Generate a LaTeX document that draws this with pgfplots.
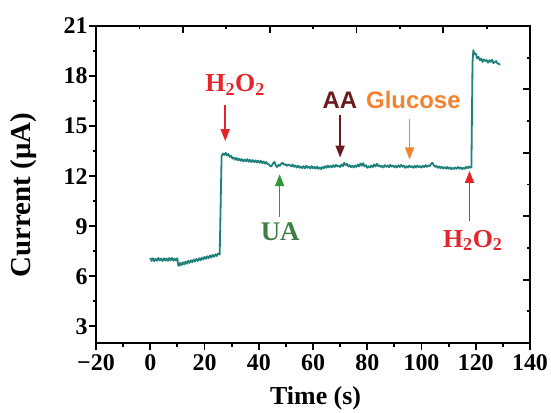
\documentclass[border=0pt]{standalone}
\usepackage{fontspec}
\setmainfont{Liberation Serif}
\newfontfamily\sansfont{Liberation Sans}
\newfontfamily\boldserif{Liberation Serif Bold}
\usepackage{pgfplots}
\pgfplotsset{compat=1.18}
\usetikzlibrary{arrows.meta}

\definecolor{trace}{HTML}{20807B}
\definecolor{hred}{HTML}{E4262B}
\definecolor{aared}{HTML}{6B1A1E}
\definecolor{gluc}{HTML}{F4822F}
\definecolor{uagreen}{HTML}{3F7F45}

% amperometric current trace: time (s), current (uA)
\pgfplotstableread{
t I
0.0 7.10
0.5 6.92
1.0 7.08
1.5 6.90
2.0 7.05
2.5 6.93
3.0 7.10
3.5 6.95
4.0 7.06
4.5 6.91
5.0 7.08
5.5 6.94
6.0 7.07
6.5 6.92
7.0 7.09
7.5 6.95
8.0 7.10
8.5 6.93
9.0 7.06
9.5 6.95
10.0 7.08
10.2 6.75
10.5 6.62
11.0 6.80
11.5 6.66
12.0 6.84
12.5 6.71
13.0 6.88
13.5 6.75
14.0 6.93
14.5 6.80
15.0 6.96
15.5 6.84
16.0 7.00
16.5 6.88
17.0 7.04
17.5 6.92
18.0 7.08
18.5 6.95
19.0 7.12
19.5 7.00
20.0 7.16
20.5 7.04
21.0 7.20
21.5 7.08
22.0 7.24
22.5 7.12
23.0 7.28
23.5 7.17
24.0 7.32
24.5 7.21
25.0 7.36
25.6 7.30
26.3 13.20
26.8 13.36
27.3 13.27
27.8 13.40
28.3 13.24
28.8 13.33
29.3 13.15
29.8 13.22
30.3 13.05
30.8 13.12
31.3 12.98
31.8 13.10
32.3 12.95
32.8 13.05
33.3 12.92
33.8 13.02
34.3 12.88
34.8 13.00
35.3 12.90
35.8 13.02
36.3 12.86
36.8 12.98
37.3 12.85
37.8 12.96
38.3 12.84
38.8 12.95
39.3 12.82
39.8 12.93
40.3 12.80
40.8 12.92
41.3 12.78
41.8 12.88
42.3 12.75
42.8 12.85
43.3 12.72
43.8 12.70
44.3 12.58
44.8 12.62
45.3 12.78
45.8 12.85
46.3 12.62
46.8 12.55
47.3 12.68
47.8 12.62
48.3 12.75
48.8 12.80
49.3 12.68
49.8 12.72
50.3 12.62
50.8 12.70
51.5 12.66
52.0 12.58
52.5 12.70
53.0 12.56
53.5 12.64
54.0 12.52
54.5 12.63
55.0 12.50
55.5 12.58
56.0 12.48
56.5 12.60
57.0 12.47
57.5 12.62
58.0 12.50
58.5 12.57
59.0 12.46
59.5 12.60
60.0 12.48
60.5 12.56
61.0 12.45
61.5 12.58
62.0 12.44
62.5 12.52
63.0 12.42
63.5 12.55
64.0 12.47
64.5 12.60
65.0 12.50
65.5 12.64
66.0 12.52
66.5 12.62
67.0 12.54
67.5 12.66
68.0 12.55
68.5 12.68
69.0 12.57
69.5 12.63
70.0 12.55
70.5 12.70
71.0 12.60
71.5 12.80
72.0 12.66
72.5 12.74
73.0 12.58
73.5 12.66
74.0 12.54
74.5 12.62
75.0 12.52
75.5 12.64
76.0 12.55
76.5 12.70
77.0 12.58
77.5 12.76
78.0 12.62
78.5 12.78
79.0 12.58
79.5 12.66
80.0 12.50
80.5 12.60
81.0 12.52
81.5 12.64
82.0 12.54
82.5 12.70
83.0 12.58
83.5 12.74
84.0 12.60
84.5 12.66
85.0 12.55
85.5 12.62
86.0 12.52
86.5 12.66
87.0 12.56
87.5 12.64
88.0 12.54
88.5 12.68
89.0 12.57
89.5 12.64
90.0 12.53
90.5 12.62
91.0 12.52
91.5 12.65
92.0 12.55
92.5 12.68
93.0 12.56
93.5 12.62
94.0 12.50
94.5 12.60
95.0 12.52
95.5 12.64
96.0 12.54
96.5 12.60
97.0 12.50
97.5 12.62
98.0 12.52
98.5 12.64
99.0 12.54
99.5 12.60
100.0 12.52
100.5 12.62
101.0 12.54
101.5 12.66
102.0 12.56
102.5 12.64
103.0 12.60
103.5 12.72
104.0 12.80
104.5 12.66
105.0 12.56
105.5 12.62
106.0 12.50
106.5 12.58
107.0 12.48
107.5 12.56
108.0 12.46
108.5 12.54
109.0 12.45
109.5 12.55
110.0 12.44
110.5 12.52
111.0 12.42
111.5 12.50
112.0 12.43
112.5 12.52
113.0 12.44
113.5 12.55
114.0 12.45
114.5 12.52
115.0 12.42
115.5 12.50
116.0 12.44
116.5 12.56
117.0 12.48
117.5 12.58
118.0 12.50
118.4 12.55
118.8 18.80
119.1 19.55
119.5 19.30
120.0 19.35
120.5 19.05
121.0 19.15
121.5 18.95
122.0 19.05
122.5 18.85
123.0 19.00
123.5 18.90
124.0 18.96
124.5 18.80
125.0 18.95
125.5 18.85
126.0 18.98
126.5 18.78
127.0 18.84
127.5 18.90
128.0 18.75
128.5 18.74
129.0 18.68
}\trace

\begin{document}
\begin{tikzpicture}[x=1bp,y=1bp]
\path[use as bounding box] (0,0) rectangle (551,412);
% main axis: data, left/bottom scales with outward ticks
\begin{axis}[
  at={(96bp,69bp)}, anchor=south west,
  scale only axis, width=434bp, height=317bp,
  xmin=-20, xmax=140, ymin=2, ymax=21,
  /pgf/number format/assume math mode=true,
  xtick={-20,0,20,40,60,80,100,120,140},
  xticklabels={−20,0,20,40,60,80,100,120,140},
  ytick={3,6,9,12,15,18,21},
  minor x tick num=1, minor y tick num=1,
  xtick pos=left, ytick pos=left,
  tick align=outside,
  major tick length=7bp, minor tick length=3.5bp,
  every tick/.style={black, line width=1.8bp},
  axis line style={black, line width=2.2bp},
  tick label style={font=\fontsize{24}{24}\boldserif},
  x tick label style={font=\fontsize{24}{24}\boldserif, yshift=-1bp},
  y tick label style={xshift=2bp},
  xlabel={Time (s)},
  ylabel={Current (μA)},
  xlabel style={font=\fontsize{26}{26}\boldserif,
    at={(axis description cs:0.506,-0.195)}, anchor=base},
  ylabel style={font=\fontsize{29}{29}\boldserif,
    at={(axis description cs:-0.168,0.467)}, anchor=center},
  clip=false,
]
\addplot[trace, line width=1.8bp, line join=round] table[x=t, y=I] {\trace};

% injections
\draw[hred, line width=1.6bp, -{Triangle[length=12bp,width=9bp]}]
  (axis cs:27.65,16.29) -- (axis cs:27.65,14.10);
\node[hred, anchor=base, font=\fontsize{26}{26}\boldserif]
  at (axis cs:31.3,17.08) {H\textsubscript{2}O\textsubscript{2}};

\draw[uagreen!80!green, line width=1.6bp, -{Triangle[length=12bp,width=9bp]}]
  (axis cs:47.7,9.54) -- (axis cs:47.7,12.12);
\node[uagreen, anchor=base, font=\fontsize{27}{27}\boldserif]
  at (axis cs:47.9,8.14) {UA};

\draw[aared, line width=1.6bp, -{Triangle[length=12bp,width=9bp]}]
  (axis cs:70.0,15.69) -- (axis cs:70.0,13.11);
\node[aared, anchor=base, font=\fontsize{24}{24}\sansfont\bfseries]
  at (axis cs:69.9,16.03) {AA};

\draw[gluc, line width=1.6bp, -{Triangle[length=12bp,width=9bp]}]
  (axis cs:95.6,15.4) -- (axis cs:95.6,13.0);
\node[gluc, anchor=base, font=\fontsize{24}{24}\sansfont\bfseries]
  at (axis cs:97.0,16.03) {Glucose};

\draw[hred, line width=1.6bp, -{Triangle[length=12bp,width=9bp]}]
  (axis cs:117.7,9.33) -- (axis cs:117.7,12.32);
\node[hred, anchor=base, font=\fontsize{26}{26}\boldserif]
  at (axis cs:118.9,7.75) {H\textsubscript{2}O\textsubscript{2}};
\end{axis}
% opposite frame: top/right scales with inward ticks, no labels
\begin{axis}[
  at={(96bp,69bp)}, anchor=south west,
  scale only axis, width=434bp, height=317bp,
  xmin=0, xmax=1, ymin=0, ymax=1,
  xtick={0,0.2,...,1}, ytick={0,0.2,...,1},
  minor x tick num=1, minor y tick num=1,
  xtick pos=right, ytick pos=right,
  xticklabels={}, yticklabels={},
  tick align=inside,
  major tick length=7bp, minor tick length=3.5bp,
  every tick/.style={black, line width=1.8bp},
  axis line style={black, line width=2.2bp},
]
\end{axis}
\end{tikzpicture}
\end{document}
